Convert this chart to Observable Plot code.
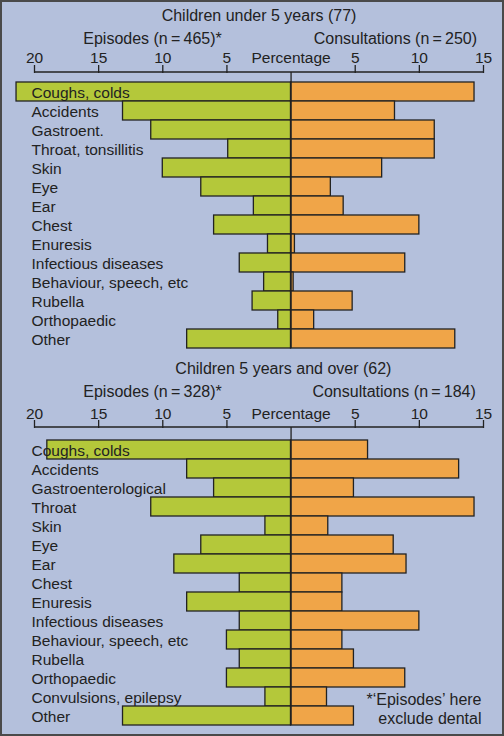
<!DOCTYPE html>
<html>
<head>
<meta charset="utf-8">
<script src="https://cdn.jsdelivr.net/npm/d3@7"></script>
<script src="https://cdn.jsdelivr.net/npm/@observablehq/plot@0.6"></script>
<style>
  body { margin: 0; }
  #frame { width: 504px; height: 736px; box-sizing: border-box; border: 2px solid #4a4a4a; background: #b4c0dc; overflow: hidden; }
  #frame svg { display: block; }
</style>
</head>
<body>
<div id="frame"></div>
<script>
// ---- Data ----
const tickValues = [-20, -15, -10, -5, 5, 10, 15];

const catsTop = ["Coughs, colds", "Accidents", "Gastroent.", "Throat, tonsillitis", "Skin", "Eye", "Ear", "Chest", "Enuresis", "Infectious diseases", "Behaviour, speech, etc", "Rubella", "Orthopaedic", "Other"];
const episodesTop = [21.4, 13.1, 10.9, 4.9, 10.0, 7.0, 2.9, 6.0, 1.8, 4.0, 2.1, 3.0, 1.0, 8.1];
const consultTop = [14.3, 8.1, 11.2, 11.2, 7.1, 3.1, 4.1, 10.0, 0.3, 8.9, 0.2, 4.8, 1.8, 12.8];

const catsBottom = ["Coughs, colds", "Accidents", "Gastroenterological", "Throat", "Skin", "Eye", "Ear", "Chest", "Enuresis", "Infectious diseases", "Behaviour, speech, etc", "Rubella", "Orthopaedic", "Convulsions, epilepsy", "Other"];
const episodesBottom = [19.0, 8.1, 6.0, 10.9, 2.0, 7.0, 9.1, 4.0, 8.1, 4.0, 5.0, 4.0, 5.0, 2.0, 13.1];
const consultBottom = [6.0, 13.1, 4.9, 14.3, 2.9, 8.0, 9.0, 4.0, 4.0, 10.0, 4.0, 4.9, 8.9, 2.8, 4.9];

const titleTop = "Children under 5 years (77)";
const episodesLabelTop = "Episodes (n\u2009=\u2009465)*";
const consultLabelTop = "Consultations (n\u2009=\u2009250)";
const titleBottom = "Children 5 years and over (62)";
const episodesLabelBottom = "Episodes (n\u2009=\u2009328)*";
const consultLabelBottom = "Consultations (n\u2009=\u2009184)";
const footnote = ["*\u2018Episodes\u2019 here", "exclude dental"];

// ---- Styles ----
const GREEN = "#b4c83a";
const ORANGE = "#f0a548";
const INK = "#222222";
const FONT = "Liberation Sans, Arial, Helvetica, sans-serif";

function axisLine(index, scales, values, dims) {
  const x = scales.x;
  const l = document.createElementNS("http://www.w3.org/2000/svg", "line");
  l.setAttribute("x1", x(-20));
  l.setAttribute("x2", x(15));
  l.setAttribute("y1", dims.marginTop);
  l.setAttribute("y2", dims.marginTop);
  l.setAttribute("stroke", INK);
  l.setAttribute("stroke-width", 1.3);
  return l;
}

function panel(cfg) {
  const data = cfg.cats.map((c, i) => ({cat: c, ep: cfg.ep[i], co: cfg.co[i]}));
  const head = {frameAnchor: "top", lineAnchor: "middle", fill: INK};
  const marks = [
    Plot.barX(data, {y: "cat", x1: 0, x2: d => -d.ep, fill: GREEN, stroke: INK, strokeWidth: 1.3}),
    Plot.barX(data, {y: "cat", x1: 0, x2: d => d.co, fill: ORANGE, stroke: INK, strokeWidth: 1.3}),
    Plot.ruleX([0], {stroke: INK, strokeWidth: 1.3}),
    axisLine,
    Plot.axisX(tickValues, {anchor: "top", tickSize: 8, tickFormat: () => "", label: null, stroke: INK, strokeWidth: 1.3}),
    Plot.text(tickValues, {...head, x: d => d, text: d => String(Math.abs(d)), dy: cfg.tickDy, fontSize: 15.5}),
    Plot.text(["Percentage"], {...head, x: 0, text: d => d, dy: cfg.tickDy, fontSize: 15.5}),
    Plot.text([cfg.title], {...head, x: cfg.titleX, text: d => d, dy: cfg.titleDy, fontSize: 16}),
    Plot.text([cfg.epLabel], {...head, x: cfg.epX, text: d => d, dy: cfg.subDy, fontSize: 16}),
    Plot.text([cfg.coLabel], {...head, x: cfg.coX, text: d => d, textAnchor: "end", dy: cfg.subDy, fontSize: 16}),
    Plot.text(data, {y: "cat", text: "cat", frameAnchor: "left", textAnchor: "start", dx: -3, dy: 1, fontSize: 15.5, fill: INK})
  ];
  if (cfg.footnote) {
    marks.push(Plot.text(cfg.footnote, {
      y: (d, i) => cfg.cats[cfg.cats.length - 2 + i], text: d => d,
      frameAnchor: "right", textAnchor: "end", dx: -2, dy: 3, fontSize: 16, fill: INK
    }));
  }
  return Plot.plot({
    width: 500,
    height: cfg.height,
    marginLeft: 32,
    marginRight: 19,
    marginTop: cfg.marginTop,
    marginBottom: cfg.marginBottom,
    style: {background: "transparent", fontFamily: FONT, color: INK},
    x: {domain: [-20, 15], axis: null},
    y: {domain: cfg.cats, range: cfg.yRange, padding: 0, axis: null},
    marks
  });
}

const frame = document.getElementById("frame");
frame.append(panel({
  cats: catsTop, ep: episodesTop, co: consultTop,
  height: 350, marginTop: 70, marginBottom: 4, yRange: [80, 346],
  title: titleTop, titleX: -2.5, titleDy: -57,
  epLabel: episodesLabelTop, epX: -10.8, coLabel: consultLabelTop, coX: 14.5,
  subDy: -34, tickDy: -14
}));
frame.append(panel({
  cats: catsBottom, ep: episodesBottom, co: consultBottom,
  height: 382, marginTop: 75, marginBottom: 9, yRange: [87, 373],
  title: titleBottom, titleX: -0.6, titleDy: -58.5,
  epLabel: episodesLabelBottom, epX: -10.8, coLabel: consultLabelBottom, coX: 14.4,
  subDy: -36, tickDy: -13.5,
  footnote: footnote
}));
</script>
</body>
</html>
